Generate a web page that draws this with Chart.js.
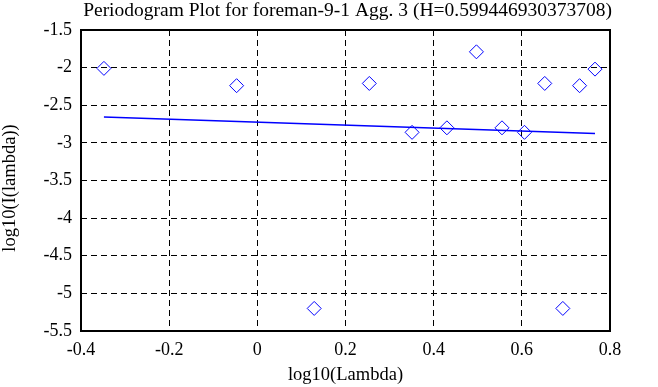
<!DOCTYPE html>
<html>
<head>
<meta charset="utf-8">
<script src="https://cdn.jsdelivr.net/npm/chart.js@4.4.1/dist/chart.umd.min.js"></script>
<style>
  html, body { margin: 0; padding: 0; background: #fff; }
  #wrap { width: 658px; height: 387px; }
</style>
</head>
<body>
<div id="wrap"><canvas id="chart" width="658" height="387"></canvas></div>
<script>
const lambdaLog = [-0.348, -0.047, 0.129, 0.254, 0.351, 0.43, 0.497, 0.555, 0.606, 0.652, 0.693, 0.731, 0.766];
const periodLog = [-2.01, -2.24, -5.2, -2.21, -2.86, -2.8, -1.79, -2.8, -2.86, -2.21, -5.2, -2.24, -2.02];
const fitX = [-0.348, 0.766];
const fitY = [-2.655, -2.875];
const xTicks = [-0.4, -0.2, 0, 0.2, 0.4, 0.6, 0.8];
const yTicks = [-5.5, -5, -4.5, -4, -3.5, -3, -2.5, -2, -1.5];
const titleText = "Periodogram Plot for foreman-9-1 Agg. 3 (H=0.599446930373708)";
const yTitleText = "log10(I(lambda))";

const serif = "'Liberation Serif', 'DejaVu Serif', serif";

// frame round the plot, plus the title and y title placed by hand
const framePlugin = {
  id: "frame",
  afterDraw(chart) {
    const { ctx, chartArea: a } = chart;
    ctx.save();
    ctx.strokeStyle = "#000";
    ctx.lineWidth = 2;
    ctx.setLineDash([]);
    ctx.strokeRect(a.left, a.top, a.right - a.left, a.bottom - a.top);

    ctx.fillStyle = "#000";
    ctx.font = `19.5px ${serif}`;
    ctx.textAlign = "center";
    ctx.textBaseline = "alphabetic";
    ctx.fillText(titleText, (a.left + a.right) / 2 + 2, 16);

    ctx.font = `18.5px ${serif}`;
    ctx.translate(15, 188);
    ctx.rotate(-Math.PI / 2);
    ctx.fillText(yTitleText, 0, 0);
    ctx.restore();
  },
};

const gridOpts = {
  color: "#000",
  lineWidth: 1,
  drawTicks: false,
  tickLength: 0,
};

new Chart(document.getElementById("chart"), {
  type: "scatter",
  data: {
    datasets: [
      {
        label: "fit",
        data: fitX.map((x, i) => ({ x, y: fitY[i] })),
        showLine: true,
        borderColor: "#0000ff",
        borderWidth: 1.5,
        pointRadius: 0,
        fill: false,
      },
      {
        label: "periodogram",
        data: lambdaLog.map((x, i) => ({ x, y: periodLog[i] })),
        pointStyle: "rectRot",
        pointRadius: 7,
        borderColor: "#0000ff",
        backgroundColor: "rgba(0,0,0,0)",
        borderWidth: 1,
      },
    ],
  },
  options: {
    responsive: false,
    animation: false,
    layout: { padding: { left: 0, right: 48, top: 30, bottom: 0 } },
    plugins: {
      legend: { display: false },
      tooltip: { enabled: false },
      title: { display: false },
    },
    scales: {
      x: {
        type: "linear",
        min: -0.4,
        max: 0.8,
        afterBuildTicks(scale) {
          scale.ticks = xTicks.map((value) => ({ value }));
        },
        afterFit(scale) {
          scale.height = 56;
        },
        grid: gridOpts,
        border: { display: false, dash: [6, 4] },
        ticks: {
          color: "#000",
          padding: 8,
          font: { family: serif, size: 18 },
          callback: (v) => String(v),
        },
        title: {
          display: true,
          text: "log10(Lambda)",
          color: "#000",
          font: { family: serif, size: 18.5 },
          padding: { top: 0, bottom: 1 },
        },
      },
      y: {
        type: "linear",
        min: -5.5,
        max: -1.5,
        afterBuildTicks(scale) {
          scale.ticks = yTicks.map((value) => ({ value }));
        },
        afterFit(scale) {
          scale.width = 81;
        },
        grid: gridOpts,
        border: { display: false, dash: [6, 4] },
        ticks: {
          color: "#000",
          padding: 9,
          labelOffset: 0,
          font: { family: serif, size: 18 },
          callback: (v) => String(v),
        },
      },
    },
  },
  plugins: [framePlugin],
});
</script>
</body>
</html>
